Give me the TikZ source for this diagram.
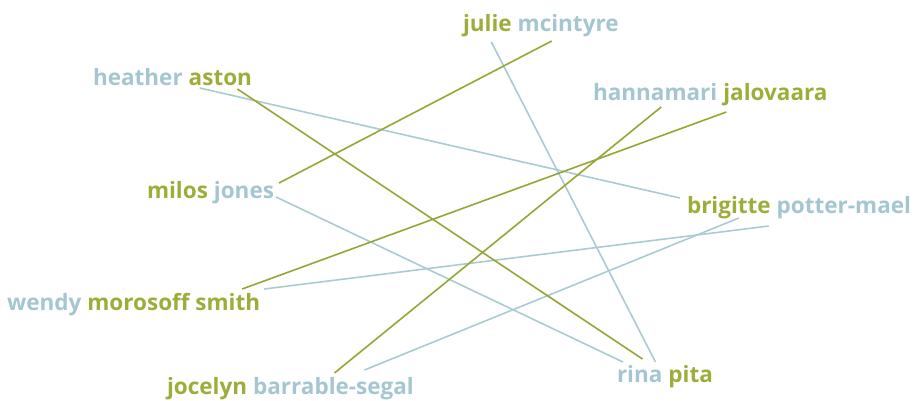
\documentclass[tikz,border=0pt]{standalone}
\usepackage{fontspec}
\setmainfont{Open Sans}
\usetikzlibrary{positioning}
\definecolor{namebl}{RGB}{164,198,208}
\definecolor{namegr}{RGB}{158,173,58}
\definecolor{linebl}{RGB}{170,202,212}
\definecolor{linegr}{RGB}{150,166,52}

\begin{document}
\begin{tikzpicture}[x=1pt,y=-1pt,
  font=\fontsize{22.5}{26}\selectfont\bfseries,
  word/.style={inner sep=0pt,outer sep=0pt},
  bl/.style={word,text=namebl},
  gr/.style={word,text=namegr},
  lb/.style={draw=linebl,line width=1.6pt},
  lg/.style={draw=linegr,line width=1.6pt},
  gap/.style={base right=6pt of #1}]
\useasboundingbox (0,0) rectangle (920,400);

% names
\node[bl,anchor=base west] (heather) at (93,85) {heather};
\node[gr,gap=heather] (aston) {aston};
\node[gr,anchor=base west] (julie) at (463,31) {julie};
\node[bl,gap=julie] (mcintyre) {mcintyre};
\node[bl,anchor=base west] (hannamari) at (593,100) {hannamari};
\node[gr,gap=hannamari] (jalovaara) {jalovaara};
\node[gr,anchor=base west] (milos) at (147,198) {milos};
\node[bl,gap=milos] (jones) {jones};
\node[gr,anchor=base west] (brigitte) at (687,213) {brigitte};
\node[bl,gap=brigitte] (potter) {potter-mael};
\node[bl,anchor=base west] (wendy) at (7,310) {wendy};
\node[gr,gap=wendy] (morosoff) {morosoff smith};
\node[gr,anchor=base west] (jocelyn) at (167,394) {jocelyn};
\node[bl,gap=jocelyn] (barrable) {barrable-segal};
\node[bl,anchor=base west] (rina) at (617,382) {rina};
\node[gr,gap=rina] (pita) {pita};

% blue links
\draw[lb] ([shift={(11,3)}]aston.base west) -- ([shift={(-7,-15)}]brigitte.base west);
\draw[lb] ([shift={(4,11)}]julie.base) -- ([shift={(-7,-20)}]rina.base east);
\draw[lb] ([shift={(2,-1)}]jones.base east) -- ([shift={(6,-20)}]rina.base west);
\draw[lb] ([shift={(4,-21)}]morosoff.base east) -- ([shift={(-8,13)}]potter.base west);
\draw[lb] ([shift={(31,-24)}]barrable.base) -- ([shift={(10,5)}]brigitte.base);

% green links
\draw[lg] ([shift={(17,4)}]aston.base) -- ([shift={(-20,-23)}]rina.base east);
\draw[lg] ([shift={(5,-15)}]jones.base east) -- ([shift={(34,10)}]mcintyre.base west);
\draw[lg] ([shift={(-18,-21)}]morosoff.base east) -- ([shift={(3,12)}]jalovaara.base west);
\draw[lg] ([shift={(1,-21)}]barrable.base) -- ([shift={(6,7)}]hannamari.base);
\end{tikzpicture}
\end{document}
